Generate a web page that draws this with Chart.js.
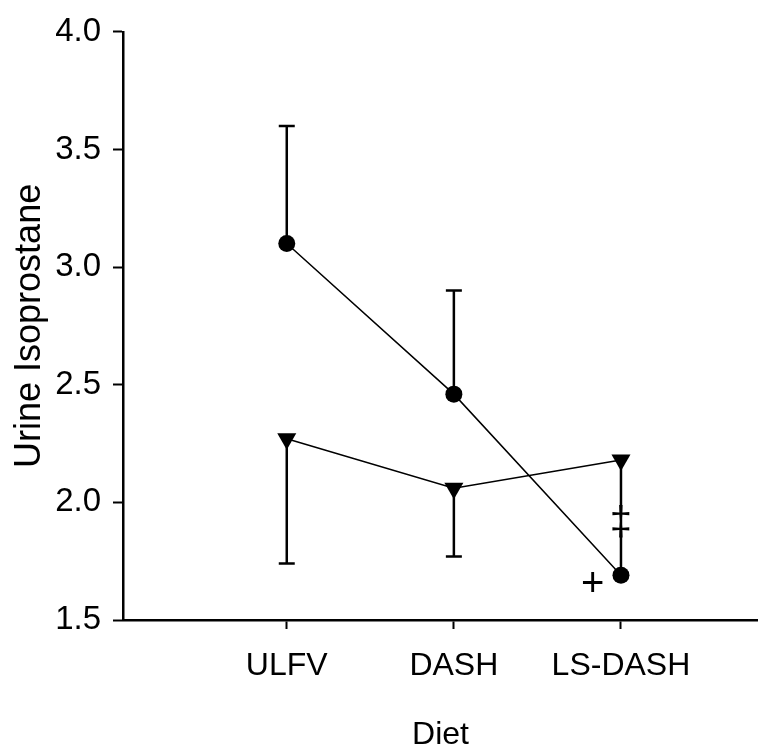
<!DOCTYPE html>
<html>
<head>
<meta charset="utf-8">
<script src="https://cdn.jsdelivr.net/npm/chart.js@4.4.1/dist/chart.umd.min.js"></script>
<style>
  html, body { margin: 0; padding: 0; background: #fff; }
  #wrap { width: 758px; height: 752px; }
</style>
</head>
<body>
<div id="wrap"><canvas id="myChart"></canvas></div>
<script>
// diet groups
var categories = ['ULFV', 'DASH', 'LS-DASH'];
// circle series with upper error bars
var circleMeans = [3.10, 2.46, 1.69];
var circleUpper = [3.60, 2.90, null];
// triangle series with lower error bars
var triangleMeans = [2.27, 2.06, 2.18];
var triangleLower = [1.74, 1.77, 1.70];
// significance marks
var markText = ['\u2021', '+'];
var markX = [3, 2.83];
var markY = [1.91, 1.65];

var FONT = "'Liberation Sans', Arial, sans-serif";

function toPoints(vals) {
     var pts = [];
     for (var i = 0; i < vals.length; i++) {
          pts.push({ x: i + 1, y: vals[i] });
     }
     return pts;
}

var errorBars = {
     id: 'errorBars',
     afterDatasetsDraw: function (chart) {
          var ctx = chart.ctx;
          var xs = chart.scales.x, ys = chart.scales.y;
          ctx.save();
          ctx.strokeStyle = '#000';
          ctx.lineWidth = 2.5;
          function bar(i, from, to) {
               if (to == null) return;
               var px = xs.getPixelForValue(i + 1);
               var y0 = ys.getPixelForValue(from);
               var y1 = ys.getPixelForValue(to);
               ctx.beginPath();
               ctx.moveTo(px, y0);
               ctx.lineTo(px, y1);
               ctx.moveTo(px - 8, y1);
               ctx.lineTo(px + 8, y1);
               ctx.stroke();
          }
          for (var i = 0; i < categories.length; i++) {
               bar(i, circleMeans[i], circleUpper[i]);
               bar(i, triangleMeans[i], triangleLower[i]);
          }
          ctx.fillStyle = '#000';
          ctx.font = '40px ' + FONT;
          ctx.textAlign = 'center';
          ctx.textBaseline = 'middle';
          for (var j = 0; j < markText.length; j++) {
               ctx.fillText(markText[j], xs.getPixelForValue(markX[j]), ys.getPixelForValue(markY[j]));
          }
          ctx.restore();
     }
};

new Chart('myChart', {
     type: 'line',
     data: {
          datasets: [{
               data: toPoints(circleMeans),
               borderColor: '#000',
               backgroundColor: '#000',
               borderWidth: 1.5,
               pointStyle: 'circle',
               pointRadius: 8.5,
               pointBorderWidth: 0,
               tension: 0,
               fill: false
          }, {
               data: toPoints(triangleMeans),
               borderColor: '#000',
               backgroundColor: '#000',
               borderWidth: 1.5,
               pointStyle: 'triangle',
               pointRotation: 180,
               pointRadius: 11,
               pointBorderWidth: 0,
               tension: 0,
               fill: false
          }]
     },
     options: {
          responsive: true,
          maintainAspectRatio: false,
          animation: false,
          layout: { autoPadding: false, padding: { top: 29, right: 0, bottom: 0, left: 0 } },
          plugins: {
               legend: { display: false },
               tooltip: { enabled: false }
          },
          scales: {
               x: {
                    type: 'linear',
                    min: 0.02,
                    max: 3.82,
                    afterBuildTicks: function (scale) {
                         scale.ticks = categories.map(function (c, i) { return { value: i + 1 }; });
                    },
                    afterFit: function (scale) { scale.height = 132; },
                    ticks: {
                         color: '#000',
                         font: { family: FONT, size: 32 },
                         padding: 18,
                         autoSkip: false,
                         maxRotation: 0,
                         callback: function (v) { return categories[v - 1]; }
                    },
                    grid: { drawOnChartArea: false, tickLength: 9, tickColor: '#000', tickWidth: 2 },
                    border: { display: true, color: '#000', width: 2.5 },
                    title: { display: true, text: 'Diet', color: '#000', font: { family: FONT, size: 32 }, padding: { top: 0, bottom: -2 } }
               },
               y: {
                    min: 1.5,
                    max: 4.0,
                    afterFit: function (scale) { scale.width = 123; },
                    ticks: {
                         stepSize: 0.5,
                         color: '#000',
                         font: { family: FONT, size: 33 },
                         padding: 12,
                         callback: function (v) { return v.toFixed(1); }
                    },
                    grid: { drawOnChartArea: false, tickLength: 10, tickColor: '#000', tickWidth: 2 },
                    border: { display: true, color: '#000', width: 2.5 },
                    title: { display: true, text: 'Urine Isoprostane', color: '#000', font: { family: FONT, size: 36 }, padding: { top: 8, bottom: 0 } }
               }
          }
     },
     plugins: [errorBars]
});
</script>
</body>
</html>
